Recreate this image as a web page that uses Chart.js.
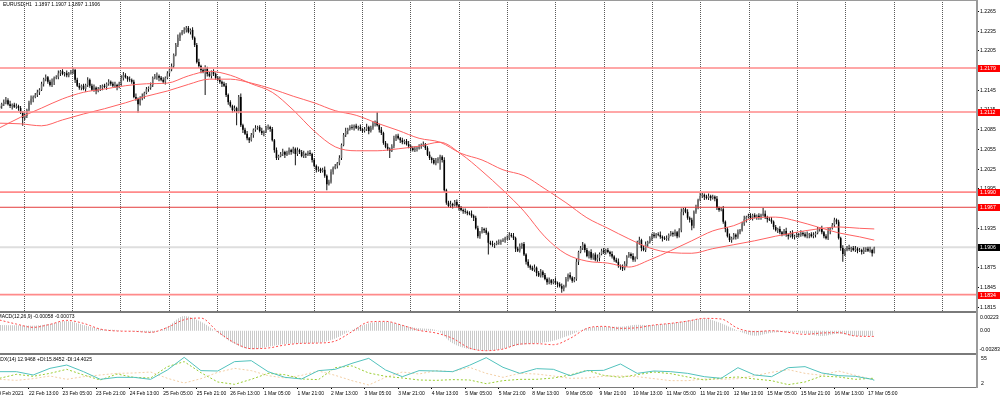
<!DOCTYPE html>
<html><head><meta charset="utf-8">
<script src="https://cdn.jsdelivr.net/npm/chart.js@4.4.1/dist/chart.umd.min.js"></script>
<style>
html,body{margin:0;padding:0;background:#fff;width:1000px;height:399px;overflow:hidden;}
.pane{position:absolute;left:0;width:1000px;}
.sep{position:absolute;background:#7a7a7a;}
</style></head><body>
<div class="pane" style="top:0;height:311px"><canvas id="cMain"></canvas></div>
<div class="pane" style="top:313px;height:40px"><canvas id="cMacd"></canvas></div>
<div class="pane" style="top:355px;height:44px"><canvas id="cAdx"></canvas></div>
<div class="sep" style="left:0;top:0;width:978px;height:1px;background:#9a9a9a"></div>
<div class="sep" style="left:0;top:311px;width:978px;height:2px"></div>
<div class="sep" style="left:0;top:353px;width:978px;height:2px"></div>
<div class="sep" style="left:0;top:387px;width:978px;height:1px"></div>
<div class="sep" style="left:976px;top:0;width:2px;height:388px;background:#9a9a9a"></div>
<script>
// ---------------- DATA ----------------
const symbol = 'EURUSD', timeframe = 'H1';

const opens = [
1.2118,1.2121,1.2124,1.2127,1.2130,1.2124,1.2121,1.2123,1.2120,1.2121,
1.2118,1.2111,1.2103,1.2106,1.2115,1.2126,1.2132,1.2135,1.2138,1.2142,
1.2146,1.2155,1.2162,1.2165,1.2158,1.2153,1.2158,1.2164,1.2165,1.2171,
1.2174,1.2170,1.2171,1.2168,1.2171,1.2173,1.2176,1.2161,1.2152,1.2149,
1.2152,1.2147,1.2153,1.2161,1.2152,1.2146,1.2149,1.2144,1.2147,1.2149,
1.2152,1.2150,1.2155,1.2158,1.2155,1.2152,1.2153,1.2150,1.2155,1.2164,
1.2168,1.2165,1.2162,1.2161,1.2158,1.2135,1.2132,1.2124,1.2133,1.2136,
1.2141,1.2147,1.2149,1.2153,1.2164,1.2167,1.2167,1.2164,1.2161,1.2158,
1.2164,1.2171,1.2177,1.2182,1.2199,1.2214,1.2225,1.2231,1.2234,1.2237,
1.2240,1.2234,1.2237,1.2225,1.2214,1.2188,1.2182,1.2176,1.2173,1.2179,
1.2170,1.2167,1.2173,1.2170,1.2164,1.2161,1.2158,1.2155,1.2152,1.2138,
1.2127,1.2121,1.2115,1.2118,1.2112,1.2135,1.2092,1.2085,1.2079,1.2072,
1.2069,1.2077,1.2085,1.2088,1.2089,1.2083,1.2080,1.2082,1.2088,1.2089,
1.2086,1.2069,1.2054,1.2042,1.2045,1.2048,1.2051,1.2047,1.2050,1.2054,
1.2051,1.2056,1.2048,1.2054,1.2051,1.2045,1.2048,1.2047,1.2050,1.2048,
1.2039,1.2030,1.2024,1.2025,1.2022,1.2024,1.2015,1.2002,1.2006,1.2021,
1.2027,1.2030,1.2034,1.2042,1.2062,1.2077,1.2083,1.2086,1.2089,1.2088,
1.2091,1.2088,1.2089,1.2086,1.2083,1.2086,1.2089,1.2083,1.2088,1.2094,
1.2097,1.2092,1.2085,1.2080,1.2065,1.2059,1.2056,1.2053,1.2060,1.2072,
1.2076,1.2072,1.2069,1.2066,1.2068,1.2063,1.2060,1.2057,1.2054,1.2056,
1.2057,1.2060,1.2062,1.2063,1.2057,1.2047,1.2042,1.2039,1.2034,1.2038,
1.2041,1.2044,1.2039,1.1993,1.1974,1.1969,1.1972,1.1970,1.1975,1.1970,
1.1966,1.1963,1.1961,1.1960,1.1958,1.1957,1.1954,1.1951,1.1935,1.1923,
1.1929,1.1934,1.1932,1.1928,1.1913,1.1911,1.1910,1.1911,1.1913,1.1914,
1.1916,1.1917,1.1920,1.1920,1.1925,1.1923,1.1920,1.1904,1.1901,1.1908,
1.1911,1.1895,1.1884,1.1878,1.1875,1.1872,1.1875,1.1867,1.1863,1.1869,
1.1864,1.1858,1.1853,1.1856,1.1852,1.1855,1.1852,1.1850,1.1847,1.1843,
1.1847,1.1858,1.1864,1.1860,1.1855,1.1858,1.1884,1.1899,1.1905,1.1910,
1.1902,1.1893,1.1899,1.1890,1.1895,1.1887,1.1890,1.1896,1.1901,1.1899,
1.1902,1.1899,1.1896,1.1892,1.1887,1.1884,1.1878,1.1877,1.1874,1.1881,
1.1892,1.1896,1.1893,1.1887,1.1890,1.1913,1.1917,1.1905,1.1902,1.1911,
1.1914,1.1920,1.1925,1.1923,1.1926,1.1925,1.1922,1.1920,1.1919,1.1920,
1.1925,1.1928,1.1926,1.1929,1.1923,1.1932,1.1960,1.1964,1.1960,1.1951,
1.1948,1.1939,1.1960,1.1967,1.1978,1.1984,1.1986,1.1983,1.1981,1.1984,
1.1981,1.1983,1.1980,1.1966,1.1963,1.1964,1.1945,1.1934,1.1923,1.1917,
1.1920,1.1925,1.1922,1.1929,1.1932,1.1942,1.1949,1.1952,1.1954,1.1951,
1.1955,1.1952,1.1954,1.1951,1.1955,1.1957,1.1952,1.1949,1.1948,1.1945,
1.1937,1.1932,1.1934,1.1929,1.1926,1.1931,1.1925,1.1923,1.1928,1.1922,
1.1923,1.1926,1.1925,1.1928,1.1926,1.1923,1.1925,1.1926,1.1923,1.1925,
1.1928,1.1934,1.1935,1.1929,1.1923,1.1920,1.1931,1.1935,1.1940,1.1948,
1.1945,1.1920,1.1905,1.1896,1.1902,1.1905,1.1904,1.1905,1.1902,1.1904,
1.1901,1.1902,1.1899,1.1902,1.1904,1.1901,1.1902,1.1897];

const highs = [
1.2124,1.2126,1.2131,1.2135,1.2133,1.2129,1.2125,1.2126,1.2125,1.2123,
1.2121,1.2113,1.2110,1.2117,1.2129,1.2137,1.2137,1.2141,1.2146,1.2148,
1.2158,1.2164,1.2169,1.2167,1.2161,1.2163,1.2166,1.2168,1.2175,1.2176,
1.2177,1.2173,1.2175,1.2173,1.2176,1.2179,1.2178,1.2164,1.2156,1.2154,
1.2155,1.2155,1.2165,1.2163,1.2155,1.2154,1.2151,1.2150,1.2153,1.2154,
1.2155,1.2157,1.2162,1.2160,1.2158,1.2158,1.2155,1.2158,1.2168,1.2173,
1.2171,1.2167,1.2166,1.2163,1.2161,1.2140,1.2134,1.2136,1.2140,1.2143,
1.2150,1.2151,1.2157,1.2166,1.2170,1.2172,1.2169,1.2167,1.2165,1.2166,
1.2174,1.2179,1.2186,1.2201,1.2217,1.2230,1.2233,1.2237,1.2241,1.2243,
1.2243,1.2239,1.2241,1.2227,1.2217,1.2193,1.2184,1.2179,1.2183,1.2181,
1.2173,1.2175,1.2177,1.2172,1.2167,1.2166,1.2160,1.2158,1.2156,1.2140,
1.2130,1.2123,1.2122,1.2120,1.2138,1.2140,1.2094,1.2088,1.2083,1.2074,
1.2080,1.2087,1.2092,1.2091,1.2092,1.2088,1.2084,1.2091,1.2093,1.2091,
1.2089,1.2071,1.2058,1.2047,1.2051,1.2056,1.2053,1.2053,1.2058,1.2056,
1.2059,1.2058,1.2058,1.2056,1.2054,1.2053,1.2050,1.2053,1.2054,1.2050,
1.2042,1.2032,1.2029,1.2027,1.2027,1.2029,1.2017,1.2009,1.2025,1.2029,
1.2033,1.2036,1.2046,1.2064,1.2080,1.2088,1.2088,1.2092,1.2093,1.2093,
1.2094,1.2091,1.2093,1.2088,1.2089,1.2094,1.2091,1.2091,1.2098,1.2099,
1.2112,1.2094,1.2089,1.2082,1.2068,1.2064,1.2058,1.2063,1.2076,1.2078,
1.2079,1.2074,1.2073,1.2070,1.2071,1.2068,1.2062,1.2060,1.2060,1.2059,
1.2063,1.2064,1.2067,1.2065,1.2060,1.2052,1.2044,1.2042,1.2042,1.2043,
1.2047,1.2046,1.2043,1.1995,1.1977,1.1977,1.1974,1.1978,1.1979,1.1972,
1.1969,1.1965,1.1965,1.1962,1.1961,1.1962,1.1956,1.1954,1.1939,1.1931,
1.1937,1.1936,1.1936,1.1930,1.1916,1.1916,1.1913,1.1916,1.1918,1.1918,
1.1920,1.1922,1.1924,1.1929,1.1928,1.1928,1.1922,1.1907,1.1912,1.1913,
1.1914,1.1897,1.1888,1.1880,1.1878,1.1880,1.1877,1.1870,1.1873,1.1871,
1.1867,1.1860,1.1860,1.1858,1.1858,1.1860,1.1854,1.1853,1.1851,1.1849,
1.1861,1.1866,1.1868,1.1862,1.1861,1.1889,1.1901,1.1908,1.1914,1.1912,
1.1905,1.1901,1.1903,1.1897,1.1898,1.1895,1.1898,1.1904,1.1905,1.1904,
1.1905,1.1901,1.1900,1.1894,1.1890,1.1889,1.1880,1.1880,1.1885,1.1894,
1.1899,1.1898,1.1897,1.1892,1.1916,1.1922,1.1919,1.1908,1.1915,1.1916,
1.1923,1.1927,1.1929,1.1928,1.1929,1.1930,1.1924,1.1923,1.1924,1.1927,
1.1931,1.1930,1.1933,1.1931,1.1935,1.1965,1.1966,1.1967,1.1964,1.1953,
1.1951,1.1962,1.1971,1.1980,1.1990,1.1989,1.1988,1.1986,1.1988,1.1986,
1.1986,1.1985,1.1984,1.1968,1.1967,1.1969,1.1947,1.1937,1.1927,1.1922,
1.1928,1.1927,1.1933,1.1934,1.1945,1.1954,1.1954,1.1957,1.1958,1.1957,
1.1958,1.1956,1.1958,1.1957,1.1966,1.1962,1.1954,1.1952,1.1952,1.1947,
1.1940,1.1936,1.1938,1.1931,1.1934,1.1936,1.1927,1.1931,1.1932,1.1925,
1.1929,1.1928,1.1932,1.1930,1.1929,1.1930,1.1928,1.1929,1.1929,1.1930,
1.1937,1.1937,1.1939,1.1931,1.1926,1.1936,1.1937,1.1943,1.1951,1.1950,
1.1948,1.1922,1.1909,1.1904,1.1908,1.1910,1.1907,1.1908,1.1908,1.1906,
1.1905,1.1904,1.1906,1.1906,1.1907,1.1907,1.1904,1.1907];

const lows = [
1.2116,1.2117,1.2121,1.2124,1.2122,1.2118,1.2116,1.2118,1.2117,1.2114,
1.2109,1.2091,1.2100,1.2103,1.2113,1.2123,1.2127,1.2133,1.2135,1.2138,
1.2144,1.2151,1.2159,1.2155,1.2151,1.2150,1.2153,1.2162,1.2162,1.2167,
1.2168,1.2166,1.2165,1.2165,1.2169,1.2170,1.2156,1.2150,1.2146,1.2145,
1.2145,1.2143,1.2150,1.2149,1.2144,1.2143,1.2139,1.2142,1.2144,1.2145,
1.2148,1.2146,1.2152,1.2152,1.2150,1.2149,1.2145,1.2148,1.2152,1.2160,
1.2163,1.2158,1.2158,1.2155,1.2133,1.2129,1.2111,1.2122,1.2130,1.2132,
1.2139,1.2143,1.2146,1.2150,1.2162,1.2161,1.2159,1.2159,1.2155,1.2154,
1.2162,1.2167,1.2174,1.2179,1.2197,1.2211,1.2220,1.2229,1.2231,1.2233,
1.2232,1.2230,1.2222,1.2211,1.2186,1.2179,1.2171,1.2171,1.2138,1.2166,
1.2165,1.2163,1.2167,1.2161,1.2159,1.2155,1.2150,1.2150,1.2135,1.2123,
1.2119,1.2111,1.2112,1.2092,1.2110,1.2089,1.2080,1.2077,1.2069,1.2065,
1.2067,1.2073,1.2082,1.2085,1.2081,1.2077,1.2075,1.2080,1.2085,1.2082,
1.2067,1.2050,1.2039,1.2039,1.2043,1.2045,1.2042,1.2045,1.2047,1.2047,
1.2049,1.2031,1.2045,1.2048,1.2043,1.2042,1.2042,1.2045,1.2045,1.2035,
1.2028,1.2020,1.2021,1.2019,1.2020,1.2012,1.1993,1.2000,1.2003,1.2017,
1.2025,1.2026,1.2031,1.2039,1.2060,1.2074,1.2078,1.2084,1.2085,1.2084,
1.2086,1.2084,1.2083,1.2080,1.2081,1.2083,1.2078,1.2081,1.2085,1.2090,
1.2090,1.2081,1.2077,1.2062,1.2057,1.2053,1.2042,1.2051,1.2057,1.2068,
1.2070,1.2065,1.2063,1.2063,1.2061,1.2057,1.2052,1.2052,1.2051,1.2052,
1.2055,1.2056,1.2059,1.2054,1.2045,1.2039,1.2034,1.2032,1.2031,1.2034,
1.2024,1.2035,1.1990,1.1971,1.1967,1.1966,1.1965,1.1968,1.1967,1.1962,
1.1961,1.1957,1.1957,1.1955,1.1955,1.1951,1.1946,1.1933,1.1920,1.1919,
1.1927,1.1928,1.1925,1.1895,1.1909,1.1907,1.1905,1.1909,1.1910,1.1910,
1.1914,1.1913,1.1917,1.1917,1.1921,1.1917,1.1899,1.1899,1.1898,1.1904,
1.1893,1.1880,1.1875,1.1872,1.1870,1.1869,1.1862,1.1861,1.1860,1.1860,
1.1856,1.1849,1.1850,1.1849,1.1850,1.1849,1.1845,1.1845,1.1837,1.1839,
1.1845,1.1854,1.1857,1.1852,1.1853,1.1855,1.1879,1.1897,1.1902,1.1898,
1.1891,1.1889,1.1887,1.1887,1.1885,1.1884,1.1885,1.1894,1.1896,1.1895,
1.1897,1.1892,1.1889,1.1884,1.1882,1.1875,1.1872,1.1870,1.1871,1.1877,
1.1890,1.1889,1.1884,1.1884,1.1888,1.1910,1.1900,1.1900,1.1899,1.1907,
1.1912,1.1916,1.1920,1.1920,1.1923,1.1919,1.1915,1.1917,1.1916,1.1916,
1.1923,1.1922,1.1923,1.1920,1.1921,1.1929,1.1955,1.1958,1.1948,1.1944,
1.1932,1.1935,1.1957,1.1964,1.1976,1.1981,1.1978,1.1979,1.1978,1.1977,
1.1979,1.1976,1.1963,1.1960,1.1961,1.1942,1.1929,1.1921,1.1914,1.1913,
1.1918,1.1918,1.1919,1.1926,1.1930,1.1939,1.1944,1.1950,1.1948,1.1947,
1.1950,1.1948,1.1948,1.1948,1.1953,1.1949,1.1944,1.1946,1.1942,1.1933,
1.1930,1.1928,1.1926,1.1923,1.1924,1.1922,1.1918,1.1921,1.1919,1.1918,
1.1921,1.1921,1.1922,1.1923,1.1921,1.1920,1.1920,1.1921,1.1920,1.1921,
1.1926,1.1930,1.1926,1.1920,1.1918,1.1917,1.1926,1.1933,1.1937,1.1941,
1.1918,1.1901,1.1884,1.1893,1.1900,1.1901,1.1899,1.1900,1.1899,1.1897,
1.1899,1.1895,1.1896,1.1899,1.1899,1.1898,1.1892,1.1897];

const closes = [
1.2121,1.2124,1.2127,1.2130,1.2124,1.2121,1.2123,1.2120,1.2121,1.2118,
1.2111,1.2103,1.2106,1.2115,1.2126,1.2132,1.2135,1.2138,1.2142,1.2146,
1.2155,1.2162,1.2165,1.2158,1.2153,1.2158,1.2164,1.2165,1.2171,1.2174,
1.2170,1.2171,1.2168,1.2171,1.2173,1.2176,1.2161,1.2152,1.2149,1.2152,
1.2147,1.2153,1.2161,1.2152,1.2146,1.2149,1.2144,1.2147,1.2149,1.2152,
1.2150,1.2155,1.2158,1.2155,1.2152,1.2153,1.2150,1.2155,1.2164,1.2168,
1.2165,1.2162,1.2161,1.2158,1.2135,1.2132,1.2124,1.2133,1.2136,1.2141,
1.2147,1.2149,1.2153,1.2164,1.2167,1.2167,1.2164,1.2161,1.2158,1.2164,
1.2171,1.2177,1.2182,1.2199,1.2214,1.2225,1.2231,1.2234,1.2237,1.2240,
1.2234,1.2237,1.2225,1.2214,1.2188,1.2182,1.2176,1.2173,1.2179,1.2170,
1.2167,1.2173,1.2170,1.2164,1.2161,1.2158,1.2155,1.2152,1.2138,1.2127,
1.2121,1.2115,1.2118,1.2112,1.2135,1.2092,1.2085,1.2079,1.2072,1.2069,
1.2077,1.2085,1.2088,1.2089,1.2083,1.2080,1.2082,1.2088,1.2089,1.2086,
1.2069,1.2054,1.2042,1.2045,1.2048,1.2051,1.2047,1.2050,1.2054,1.2051,
1.2056,1.2048,1.2054,1.2051,1.2045,1.2048,1.2047,1.2050,1.2048,1.2039,
1.2030,1.2024,1.2025,1.2022,1.2024,1.2015,1.2002,1.2006,1.2021,1.2027,
1.2030,1.2034,1.2042,1.2062,1.2077,1.2083,1.2086,1.2089,1.2088,1.2091,
1.2088,1.2089,1.2086,1.2083,1.2086,1.2089,1.2083,1.2088,1.2094,1.2097,
1.2092,1.2085,1.2080,1.2065,1.2059,1.2056,1.2053,1.2060,1.2072,1.2076,
1.2072,1.2069,1.2066,1.2068,1.2063,1.2060,1.2057,1.2054,1.2056,1.2057,
1.2060,1.2062,1.2063,1.2057,1.2047,1.2042,1.2039,1.2034,1.2038,1.2041,
1.2044,1.2039,1.1993,1.1974,1.1969,1.1972,1.1970,1.1975,1.1970,1.1966,
1.1963,1.1961,1.1960,1.1958,1.1957,1.1954,1.1951,1.1935,1.1923,1.1929,
1.1934,1.1932,1.1928,1.1913,1.1911,1.1910,1.1911,1.1913,1.1914,1.1916,
1.1917,1.1920,1.1920,1.1925,1.1923,1.1920,1.1904,1.1901,1.1908,1.1911,
1.1895,1.1884,1.1878,1.1875,1.1872,1.1875,1.1867,1.1863,1.1869,1.1864,
1.1858,1.1853,1.1856,1.1852,1.1855,1.1852,1.1850,1.1847,1.1843,1.1847,
1.1858,1.1864,1.1860,1.1855,1.1858,1.1884,1.1899,1.1905,1.1910,1.1902,
1.1893,1.1899,1.1890,1.1895,1.1887,1.1890,1.1896,1.1901,1.1899,1.1902,
1.1899,1.1896,1.1892,1.1887,1.1884,1.1878,1.1877,1.1874,1.1881,1.1892,
1.1896,1.1893,1.1887,1.1890,1.1913,1.1917,1.1905,1.1902,1.1911,1.1914,
1.1920,1.1925,1.1923,1.1926,1.1925,1.1922,1.1920,1.1919,1.1920,1.1925,
1.1928,1.1926,1.1929,1.1923,1.1932,1.1960,1.1964,1.1960,1.1951,1.1948,
1.1939,1.1960,1.1967,1.1978,1.1984,1.1986,1.1983,1.1981,1.1984,1.1981,
1.1983,1.1980,1.1966,1.1963,1.1964,1.1945,1.1934,1.1923,1.1917,1.1920,
1.1925,1.1922,1.1929,1.1932,1.1942,1.1949,1.1952,1.1954,1.1951,1.1955,
1.1952,1.1954,1.1951,1.1955,1.1957,1.1952,1.1949,1.1948,1.1945,1.1937,
1.1932,1.1934,1.1929,1.1926,1.1931,1.1925,1.1923,1.1928,1.1922,1.1923,
1.1926,1.1925,1.1928,1.1926,1.1923,1.1925,1.1926,1.1923,1.1925,1.1928,
1.1934,1.1935,1.1929,1.1923,1.1920,1.1931,1.1935,1.1940,1.1948,1.1945,
1.1920,1.1905,1.1896,1.1902,1.1905,1.1904,1.1905,1.1902,1.1904,1.1901,
1.1902,1.1899,1.1902,1.1904,1.1901,1.1902,1.1897,1.1906];

// moving averages, sampled at these bar indices
const maIdx = [0,10,20,30,40,50,60,70,80,90,100,110,120,130,140,150,160,170,180,190,200,210,220,230,240,250,260,270,280,290,300,310,320,330,340,350,360,370,380,390,400,410,417];
const maFast = [1.2088,1.2104,1.2118,1.2132,1.2142,1.2147,1.2152,1.2155,1.2156,1.2167,1.2174,1.2168,1.2155,1.2142,1.2115,1.2083,1.2059,1.2053,1.2053,1.2056,1.2060,1.2066,1.2048,1.2022,1.1993,1.1961,1.1922,1.1896,1.1885,1.1882,1.1876,1.1887,1.1901,1.1916,1.1931,1.1939,1.1951,1.1952,1.1946,1.1937,1.1928,1.1922,1.1917];
const maSlow = [1.2095,1.2094,1.2091,1.2100,1.2109,1.2117,1.2126,1.2136,1.2144,1.2154,1.2162,1.2162,1.2156,1.2147,1.2136,1.2126,1.2114,1.2107,1.2095,1.2084,1.2072,1.2066,1.2049,1.2039,1.2024,1.2015,1.1995,1.1974,1.1951,1.1935,1.1919,1.1905,1.1898,1.1897,1.1904,1.1910,1.1916,1.1923,1.1929,1.1934,1.1937,1.1935,1.1934];

// horizontal levels and price axis ticks
const levels = [1.2179, 1.2112, 1.1990, 1.1967, 1.1834];
const priceTicks = [1.1815,1.1845,1.1875,1.1905,1.1935,1.1965,1.1995,1.2025,1.2055,1.2085,1.2115,1.2145,1.2175,1.2205,1.2235,1.2265];

// indicator samples (bar indices)
const indIdx = [0,8,16,24,32,40,48,56,64,72,80,88,96,104,112,120,128,136,144,152,160,168,176,184,192,200,208,216,224,232,240,248,256,264,272,280,288,296,304,312,320,328,336,344,352,360,368,376,384,392,400,408,416,417];
const macdMain = [
0.00071,0.00067,0.00062,0.00083,0.00121,0.00071,0.00020,0.00008,-0.00009,-0.00026,
0.00050,0.00185,0.00113,-0.00026,-0.00170,-0.00237,-0.00203,-0.00170,-0.00161,-0.00153,
-0.00098,0.00008,0.00092,0.00113,0.00071,0.00029,0.00008,-0.00161,-0.00237,-0.00254,
-0.00228,-0.00182,-0.00161,-0.00127,-0.00056,0.00029,0.00050,0.00050,0.00075,0.00071,
0.00092,0.00126,0.00155,0.00092,-0.00001,-0.00064,-0.00026,-0.00013,-0.00035,-0.00068,
-0.00035,-0.00068,-0.00064,-0.00058];
const macdSignal = [
0.00134,0.00083,0.00041,0.00079,0.00130,0.00092,0.00020,-0.00005,-0.00009,-0.00022,
0.00041,0.00138,0.00159,-0.00013,-0.00153,-0.00228,-0.00220,-0.00182,-0.00161,-0.00157,
-0.00132,-0.00013,0.00109,0.00117,0.00067,0.00003,-0.00030,-0.00098,-0.00220,-0.00254,
-0.00233,-0.00170,-0.00165,-0.00178,-0.00098,0.00029,0.00054,0.00029,0.00037,0.00071,
0.00092,0.00121,0.00155,0.00147,0.00029,-0.00013,-0.00001,-0.00022,-0.00047,-0.00030,
-0.00026,-0.00068,-0.00073,-0.00073];
const macdScale = [0.00223, 0.00, -0.00283];

const adx = [
27.4,27.4,21.9,32.9,38.4,27.4,14.7,18.0,18.0,14.7,
30.2,51.1,29.1,28.5,44.0,45.6,27.4,18.0,15.3,29.1,
31.3,41.2,49.5,30.2,19.1,29.1,28.5,27.4,37.9,50.6,
34.6,24.6,32.4,31.3,20.8,29.1,29.6,40.1,24.6,28.5,
27.4,24.6,19.1,16.4,34.0,21.9,19.1,34.0,35.7,25.2,
20.8,19.7,14.7,12.9468];
const plusDI = [
16.4,23.0,19.7,24.6,31.3,21.9,13.6,23.5,18.0,16.9,
35.7,44.0,25.7,10.3,6.4,14.7,24.6,22.4,15.3,14.2,
34.0,37.0,25.2,19.7,16.9,13.6,13.0,14.2,13.6,7.5,
12.5,14.7,14.7,16.9,21.9,29.6,21.3,18.0,22.4,26.8,
24.1,18.6,13.6,16.9,18.6,15.3,12.5,5.9,10.3,20.2,
18.6,14.7,16.4,15.8452];
const minusDI = [
14.7,13.0,15.8,20.2,14.7,19.1,21.9,24.6,25.2,26.8,
16.4,8.6,15.8,26.3,32.9,29.1,20.8,16.9,21.3,28.5,
21.3,12.5,5.3,18.0,26.8,23.5,29.1,27.4,34.6,24.6,
18.0,24.6,23.5,20.2,16.4,16.9,20.2,20.2,19.1,15.8,
12.5,12.5,15.3,14.7,15.8,20.8,26.3,30.7,24.6,21.3,
28.5,21.3,14.7,14.4025];
const adxScale = [55, 2];

// time axis
const timeIdx = [-2,14,30,46,62,78,94,110,126,142,158,174,190,206,222,238,254,270,286,302,318,334,350,366,382,398,414];
const timeLabels = ['19 Feb 2021','22 Feb 13:00','23 Feb 05:00','23 Feb 21:00','24 Feb 13:00','25 Feb 05:00','25 Feb 21:00','26 Feb 13:00','1 Mar 05:00','1 Mar 21:00','2 Mar 13:00','3 Mar 05:00','3 Mar 21:00','4 Mar 13:00','5 Mar 05:00','5 Mar 21:00','8 Mar 13:00','9 Mar 05:00','9 Mar 21:00','10 Mar 13:00','11 Mar 05:00','11 Mar 21:00','12 Mar 13:00','15 Mar 05:00','15 Mar 21:00','16 Mar 13:00','17 Mar 05:00'];

// ---------------- LAYOUT / STYLE ----------------
const X_MIN = 0.19, X_MAX = 465.98;
const PRICE_MIN = 1.18091, PRICE_MAX = 1.22825;
const GRID_START = 11.776, GRID_STEP = 23.04, GRID_COUNT = 20;
const FAM = "'Liberation Sans', Arial, sans-serif";
const AXIS_W = 23;
const LEVEL_COLORS = ['#ff8a8a','#ff8a8a','#ff8a8a','#e43c3c','#ff8a8a'];
const LEVEL_WIDTHS = [1.6,1.6,1.6,1,1.6];

Chart.defaults.font.family = FAM;
Chart.defaults.color = '#000';
Chart.defaults.animation = false;

const n = closes.length - 1;
const pts = (xs, ys) => xs.map((x, k) => ({x, y: ys[k]}));
const hLine = v => [{x: X_MIN, y: v}, {x: X_MAX, y: v}];
const common = {
  responsive: true, maintainAspectRatio: false, animation: false, devicePixelRatio: 1, events: [],
  plugins: {legend: {display: false}, tooltip: {enabled: false}}
};

function sideLabel(ctx, text, x, y, base) {
  ctx.textBaseline = base; ctx.fillText(text, x, y);
}

// ---------------- MAIN PRICE CHART ----------------
const mainOverlay = {
  id: 'mainOverlay',
  afterDraw(chart) {
    const ctx = chart.ctx, ys = chart.scales.y;
    ctx.save();
    ctx.fillStyle = '#000'; ctx.textAlign = 'left'; ctx.textBaseline = 'middle';
    ctx.font = '5px ' + FAM;
    ctx.fillText(symbol + ',' + timeframe + '  ' + [opens[n], highs[n], lows[n], closes[n]].map(v => v.toFixed(4)).join(' '), 3, 5);
    const tag = (v, bg) => {
      const py = ys.getPixelForValue(v);
      ctx.fillStyle = bg; ctx.fillRect(978, Math.round(py) - 3, 22, 7);
      ctx.fillStyle = '#fff'; ctx.font = '5.2px ' + FAM;
      ctx.fillText(v.toFixed(4), 980, py + 0.5);
    };
    levels.forEach(v => tag(v, '#ff0000'));
    tag(closes[n], '#000');
    ctx.restore();
  }
};

const barIdx = closes.map((_, i) => i);
const datasets = [
  {type: 'line', data: hLine(closes[n]), borderColor: '#dedede', borderWidth: 2, pointRadius: 0, order: 20},
  {type: 'bar', data: barIdx.map(i => ({x: i, y: [lows[i], highs[i]]})), backgroundColor: '#111', barThickness: 1, grouped: false, inflateAmount: 0, borderWidth: 0, order: 10},
  {type: 'bar', data: barIdx.map(i => ({x: i, y: [opens[i], closes[i]]})), backgroundColor: c => (closes[c.dataIndex] >= opens[c.dataIndex] ? '#6e6e6e' : '#000'), barThickness: 1.6, grouped: false, inflateAmount: 0, borderWidth: 0, order: 9},
  {type: 'line', data: pts(maIdx, maFast), borderColor: '#ff6262', borderWidth: 1, pointRadius: 0, cubicInterpolationMode: 'monotone', order: 3},
  {type: 'line', data: pts(maIdx, maSlow), borderColor: '#ff6262', borderWidth: 1, pointRadius: 0, cubicInterpolationMode: 'monotone', order: 3}
];
levels.forEach((v, k) => datasets.push({type: 'line', data: hLine(v), borderColor: LEVEL_COLORS[k], borderWidth: LEVEL_WIDTHS[k], pointRadius: 0, order: 1}));

new Chart(document.getElementById('cMain'), {
  type: 'bar',
  data: {datasets},
  options: Object.assign({}, common, {
    layout: {padding: 0},
    scales: {
      x: {
        type: 'linear', min: X_MIN, max: X_MAX, offset: false,
        afterBuildTicks: s => { s.ticks = Array.from({length: GRID_COUNT}, (_, k) => ({value: GRID_START + k * GRID_STEP})); },
        ticks: {display: false},
        grid: {color: '#5a5a5a', lineWidth: 1, drawTicks: false, offset: false},
        border: {display: false, dash: [1, 1]},
        afterFit: s => { s.height = 0; }
      },
      y: {
        type: 'linear', position: 'right', min: PRICE_MIN, max: PRICE_MAX,
        afterBuildTicks: s => { s.ticks = priceTicks.map(v => ({value: v})); },
        ticks: {font: {size: 5.2, family: FAM}, color: '#000', padding: 1, autoSkip: false, callback: v => v.toFixed(4)},
        grid: {drawOnChartArea: false, drawTicks: true, tickLength: 2, tickColor: '#000'},
        border: {display: false},
        afterFit: s => { s.width = AXIS_W; s.paddingTop = 0; s.paddingBottom = 0; }
      }
    }
  }),
  plugins: [mainOverlay]
});

// ---------------- MACD ----------------
const macdCanvas = document.getElementById('cMacd');
const pc = document.createElement('canvas'); pc.width = 2; pc.height = 1;
const pcx = pc.getContext('2d');
pcx.fillStyle = '#ffffff'; pcx.fillRect(0, 0, 2, 1);
pcx.fillStyle = '#cacaca'; pcx.fillRect(0, 0, 1, 1);
const stripe = macdCanvas.getContext('2d').createPattern(pc, 'repeat');

const macdOverlay = {
  id: 'macdOverlay',
  afterDraw(chart) {
    const ctx = chart.ctx, ys = chart.scales.y, a = chart.chartArea;
    ctx.save();
    ctx.fillStyle = '#000'; ctx.textAlign = 'left'; ctx.font = '5px ' + FAM;
    sideLabel(ctx, 'MACD(12,26,9) ' + macdMain[macdMain.length - 1].toFixed(5) + ' ' + macdSignal[macdSignal.length - 1].toFixed(5), -2.5, 3.8, 'middle');
    ctx.font = '5.2px ' + FAM;
    sideLabel(ctx, macdScale[0].toFixed(5), 980, a.top + 1.5, 'top');
    sideLabel(ctx, macdScale[1].toFixed(2), 980, ys.getPixelForValue(macdScale[1]) + 0.3, 'middle');
    sideLabel(ctx, macdScale[2].toFixed(5), 979.5, a.bottom - 0.5, 'bottom');
    ctx.restore();
  }
};

new Chart(macdCanvas, {
  type: 'line',
  data: {datasets: [
    {data: pts(indIdx, macdMain), fill: 'origin', backgroundColor: stripe, borderWidth: 0, pointRadius: 0, cubicInterpolationMode: 'monotone', order: 2},
    {data: pts(indIdx, macdSignal), fill: false, borderColor: '#ff4a4a', borderWidth: 1, borderDash: [2, 2], pointRadius: 0, cubicInterpolationMode: 'monotone', order: 1}
  ]},
  options: Object.assign({}, common, {
    layout: {padding: {right: AXIS_W, left: 0, top: 0, bottom: 0}},
    scales: {
      x: {type: 'linear', min: X_MIN, max: X_MAX, display: false},
      y: {type: 'linear', min: macdScale[2], max: macdScale[0], display: false}
    }
  }),
  plugins: [macdOverlay]
});

// ---------------- ADX ----------------
const adxOverlay = {
  id: 'adxOverlay',
  afterDraw(chart) {
    const ctx = chart.ctx, a = chart.chartArea;
    ctx.save();
    ctx.fillStyle = '#000'; ctx.textAlign = 'left'; ctx.font = '5px ' + FAM;
    sideLabel(ctx, 'ADX(14) ' + adx[adx.length - 1].toFixed(4) + ' +DI:' + plusDI[plusDI.length - 1].toFixed(4) + ' -DI:' + minusDI[minusDI.length - 1].toFixed(4), -3, 4.5, 'middle');
    ctx.font = '5.2px ' + FAM;
    sideLabel(ctx, String(adxScale[0]), 981, a.top + 1, 'top');
    sideLabel(ctx, String(adxScale[1]), 981, a.bottom - 0.5, 'bottom');
    ctx.restore();
  }
};

new Chart(document.getElementById('cAdx'), {
  type: 'line',
  data: {datasets: [
    {data: pts(indIdx, adx), borderColor: '#52c2bd', borderWidth: 1, pointRadius: 0, tension: 0, order: 1},
    {data: pts(indIdx, plusDI), borderColor: '#9acd32', borderWidth: 1, borderDash: [2, 2], pointRadius: 0, tension: 0, order: 2},
    {data: pts(indIdx, minusDI), borderColor: '#f2cfa6', borderWidth: 1, borderDash: [2, 2], pointRadius: 0, tension: 0, order: 3}
  ]},
  options: Object.assign({}, common, {
    layout: {padding: {right: AXIS_W, left: 0, top: 0, bottom: 0}},
    scales: {
      x: {
        type: 'linear', min: X_MIN, max: X_MAX, position: 'bottom', offset: false,
        afterBuildTicks: s => { s.ticks = timeIdx.map(v => ({value: v})); },
        ticks: {autoSkip: false, maxRotation: 0, minRotation: 0, align: 'start', padding: 1.5, color: '#000', font: {size: 5, family: FAM}, callback: (v, k) => timeLabels[k]},
        grid: {drawOnChartArea: false, drawTicks: true, tickLength: 2, tickColor: '#000'},
        border: {display: false},
        afterFit: s => { s.height = 12; s.paddingLeft = 0; s.paddingRight = 0; }
      },
      y: {type: 'linear', min: adxScale[1], max: adxScale[0], display: false}
    }
  }),
  plugins: [adxOverlay]
});
</script>
</body></html>
